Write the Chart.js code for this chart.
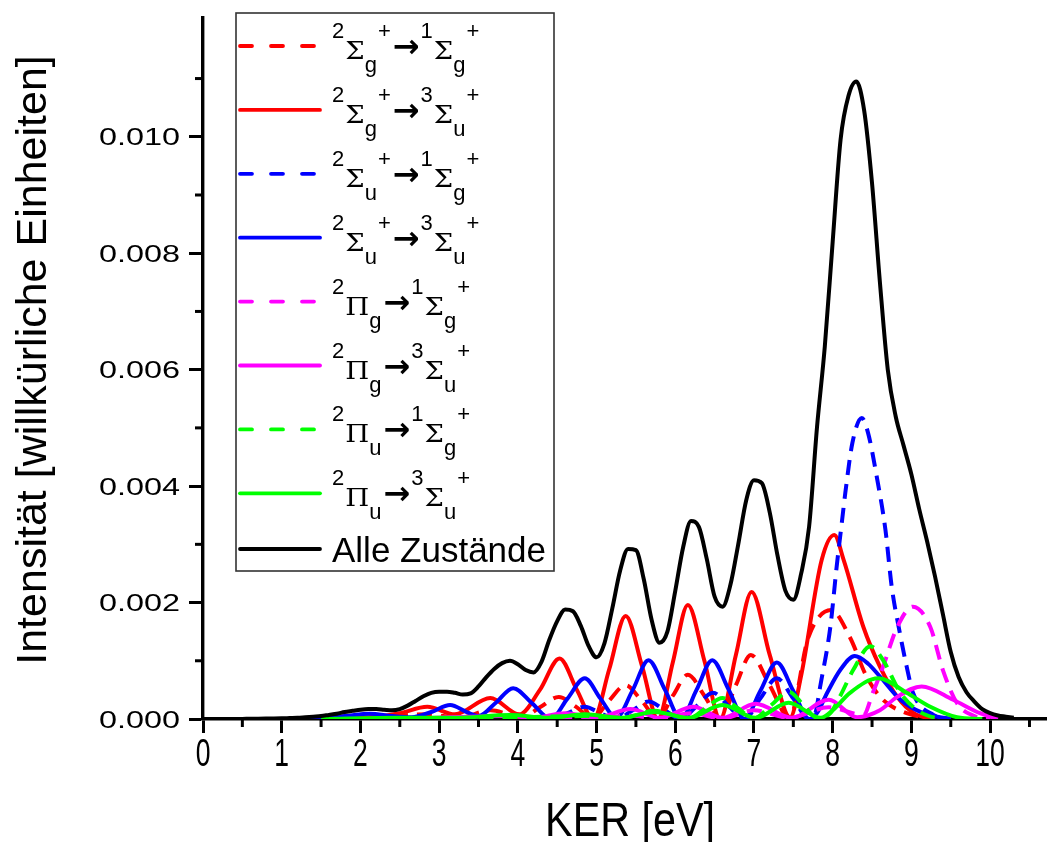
<!DOCTYPE html>
<html>
<head>
<meta charset="utf-8">
<script src="https://cdn.jsdelivr.net/npm/chart.js@4.4.0/dist/chart.umd.min.js"></script>
<style>
  html, body { margin: 0; padding: 0; background: #fff; }
</style>
</head>
<body>
<canvas id="kerChart" width="1049" height="842"></canvas>
<script>
// all intensities are given in units of 1e-3 (arb. units)
var kerAlle = [0.4,0.5,0.6,0.7,0.8,0.9,1.0,1.1,1.2,1.3,1.4,1.5,1.6,1.7,1.8,1.9,2.0,2.1,2.2,2.3,2.4,2.5,2.6,2.7,2.8,2.9,
  3.0,3.1,3.2,3.3,3.4,3.5,3.6,3.7,3.8,3.9,4.0,4.1,4.2,4.3,4.4,4.5,4.6,4.7,4.8,4.9,5.0,5.1,5.2,5.3,5.4,5.5,5.6,5.7,5.8,5.9,
  6.0,6.1,6.2,6.3,6.4,6.5,6.6,6.7,6.8,6.9,7.0,7.1,7.2,7.3,7.4,7.5,7.6,7.7,7.8,7.9,8.0,8.1,8.2,8.3,8.4,8.5,8.6,8.7,8.8,8.9,
  9.0,9.1,9.2,9.3,9.4,9.5,9.6,9.7,9.8,9.9,10.0,10.1,10.2,10.3];
var alleZustaende = [0,0.002,0.003,0.005,0.007,0.009,0.012,0.016,0.02,0.03,0.04,0.05,0.07,0.09,0.12,0.14,0.16,0.17,0.17,0.16,0.15,0.17,
  0.23,0.31,0.39,0.45,0.47,0.47,0.45,0.42,0.44,0.56,0.72,0.86,0.96,1.0,0.94,0.84,0.8,0.98,1.36,1.68,1.88,1.85,1.6,1.25,1.06,1.3,1.9,
  2.55,2.92,2.9,2.4,1.7,1.31,1.5,2.2,2.95,3.4,3.3,2.75,2.1,1.93,2.3,3.0,3.75,4.1,4.05,3.55,2.8,2.2,2.05,2.5,3.3,5.0,6.4,8.2,9.95,
  10.7,10.95,10.45,9.2,7.5,6.0,5.2,4.7,4.2,3.6,3.05,2.45,1.8,1.15,0.72,0.46,0.3,0.17,0.1,0.06,0.04,0.02];

var kerSgS1 = [1.5,2.2,2.85,3.25,3.65,4.05,4.28,4.52,4.75,4.95,5.15,5.37,5.58,5.78,5.97,6.16,6.37,6.57,6.77,6.96,7.2,7.45,7.69,7.98,8.22,8.43,8.64,8.94,9.3];
var sgS1 = [0,0.03,0.08,0.02,0.15,0.03,0.2,0.38,0.2,0.01,0.3,0.58,0.3,0.01,0.4,0.76,0.4,0.01,0.58,1.1,0.58,0.02,1.4,1.87,1.4,0.73,0.33,0.1,0];

var kerSgS3 = [1.5,2.2,2.5,2.85,3.2,3.65,4.02,4.28,4.53,4.75,4.96,5.16,5.37,5.58,5.78,5.97,6.16,6.37,6.57,6.77,6.97,7.2,7.46,7.6,7.86,8.02,8.14,8.39,8.6,8.82,9.03,9.25];
var sgS3 = [0,0.04,0.1,0.21,0.08,0.36,0.08,0.5,1.04,0.5,0.0,0.85,1.77,0.9,0.0,0.98,1.96,1.0,0.0,1.1,2.18,1.1,0.03,0.75,2.73,3.16,2.73,1.58,0.9,0.38,0.1,0];

var kerSuS1 = [3.0,3.94,4.42,4.63,4.85,5.05,5.25,5.46,5.66,5.87,6.07,6.27,6.48,6.68,6.88,7.08,7.29,7.5,7.7,7.78,7.84,7.97,8.05,8.12,8.16,8.25,8.37,8.45,8.56,8.67,8.75,8.85,8.94,9.02,9.28,9.5];
var suS1 = [0,0.06,0.0,0.1,0.21,0.1,0.0,0.15,0.3,0.15,0.0,0.22,0.45,0.22,0.0,0.35,0.7,0.35,0.0,0.1,0.55,1.58,2.61,3.42,3.88,4.74,5.17,4.91,4.16,3.25,2.27,1.5,0.9,0.45,0.07,0];

var kerSuS3 = [1.2,1.8,2.12,2.4,2.65,2.9,3.14,3.35,3.5,3.72,3.94,4.18,4.42,4.63,4.85,5.05,5.25,5.46,5.66,5.87,6.07,6.27,6.47,6.68,6.88,7.08,7.29,7.5,7.7,7.8,7.93,8.1,8.28,8.45,8.6,8.86,9.15,9.5];
var suS3 = [0,0.05,0.09,0.05,0.03,0.12,0.24,0.12,0.05,0.28,0.53,0.27,0.0,0.35,0.7,0.35,0.02,0.5,1.01,0.5,0.0,0.5,1.01,0.5,0.0,0.48,0.97,0.48,0.0,0.1,0.45,0.85,1.08,0.95,0.73,0.33,0.1,0];

var kerPgS1 = [4.5,5.0,5.4,5.8,6.2,6.6,7.0,7.45,7.95,8.39,8.51,8.64,8.82,9.02,9.24,9.4,9.58,9.8,10.0];
var pgS1 = [0,0.01,0.06,0.01,0.1,0.01,0.15,0.02,0.2,0.07,0.45,0.9,1.58,1.93,1.58,0.84,0.27,0.05,0];

var kerPgS3 = [2.5,3.9,4.2,4.6,5.0,5.43,5.8,6.23,6.6,7.02,7.48,7.95,8.31,8.6,8.82,9.13,9.53,9.87,10.1];
var pgS3 = [0,0.05,0.02,0.1,0.02,0.17,0.02,0.21,0.02,0.26,0.02,0.33,0.03,0.15,0.38,0.56,0.33,0.1,0];

var kerPuS1 = [3.5,4.85,5.3,5.74,6.17,6.38,6.6,6.8,7.0,7.22,7.44,7.63,7.8,7.97,8.09,8.26,8.48,8.64,8.86,9.11,9.35];
var puS1 = [0,0.05,0.01,0.14,0.01,0.18,0.36,0.18,0.01,0.24,0.47,0.24,0.02,0.1,0.38,0.84,1.25,1.01,0.45,0.12,0];

var kerPuS3 = [1.5,2.5,3.2,3.9,4.4,4.85,5.3,5.74,6.17,6.6,7.02,7.44,7.85,8.0,8.22,8.58,8.94,9.24,9.58,9.9];
var puS3 = [0,0.02,0.02,0.07,0.02,0.08,0.02,0.12,0.02,0.24,0.02,0.28,0.02,0.15,0.45,0.7,0.45,0.21,0.03,0];

// legend labels: ^x = superscript, _x = subscript
var seriesLabels = ['^2Σ_g^+→^1Σ_g^+', '^2Σ_g^+→^3Σ_u^+', '^2Σ_u^+→^1Σ_g^+', '^2Σ_u^+→^3Σ_u^+',
  '^2Π_g→^1Σ_g^+', '^2Π_g→^3Σ_u^+', '^2Π_u→^1Σ_g^+', '^2Π_u→^3Σ_u^+', 'Alle Zustände'];
var seriesColors = ['#ff0000', '#ff0000', '#0000ff', '#0000ff', '#ff00ff', '#ff00ff', '#00ff00', '#00ff00', '#000000'];
var seriesDashed = [true, false, true, false, true, false, true, false, false];

var xTickLabels = ['0','1','2','3','4','5','6','7','8','9','10'];
var yTickLabels = ['0.000','0.002','0.004','0.006','0.008','0.010'];
var xMinorTicks = [0.5,1.5,2.5,3.5,4.5,5.5,6.5,7.5,8.5,9.5,10.5];
var yMinorTicks = [0.001,0.003,0.005,0.007,0.009,0.011];

var seriesX = [kerSgS1, kerSgS3, kerSuS1, kerSuS3, kerPgS1, kerPgS3, kerPuS1, kerPuS3, kerAlle];
var seriesY = [sgS1, sgS3, suS1, suS3, pgS1, pgS3, puS1, puS3, alleZustaende];

function toPoints(xs, ys) {
  return xs.map(function (x, i) { return { x: x, y: ys[i] * 1e-3 }; });
}

var datasets = seriesLabels.map(function (lbl, i) {
  return {
    label: lbl,
    data: toPoints(seriesX[i], seriesY[i]),
    borderColor: seriesColors[i],
    borderWidth: 4,
    borderDash: seriesDashed[i] ? [15, 9] : [],
    pointRadius: 0,
    fill: false,
    cubicInterpolationMode: 'monotone',
    order: seriesLabels.length - i
  };
});

function stretchText(ctx, str, x, y, font, sx, sy, align, baseline) {
  ctx.save();
  ctx.translate(x, y);
  ctx.scale(sx, sy);
  ctx.font = font;
  ctx.textAlign = align;
  ctx.textBaseline = baseline;
  ctx.fillText(str, 0, 0);
  ctx.restore();
}

function drawLabel(ctx, label, x0, cy) {
  var x = x0;
  var i = 0;
  while (i < label.length) {
    var c = label[i];
    if (c === '^' || c === '_') {
      var ch = label[i + 1];
      ctx.font = '22px "Liberation Sans", Arial, sans-serif';
      ctx.fillText(ch, x, c === '^' ? cy - 8 : cy + 26);
      x += ctx.measureText(ch).width + 1;
      i += 2;
      continue;
    }
    if (c === 'Σ' || c === 'Π') {
      ctx.save();
      ctx.translate(x, cy + 13);
      ctx.scale(1.1, 1);
      ctx.font = '25px "DejaVu Serif", "Liberation Serif", serif';
      ctx.fillText(c, 0, 0);
      var w = ctx.measureText(c).width * 1.1;
      ctx.restore();
      x += w;
    } else if (c === '→') {
      ctx.font = 'bold 32px "DejaVu Sans", sans-serif';
      ctx.fillText(c, x + 1, cy + 11);
      x += ctx.measureText(c).width + 2;
    } else {
      ctx.font = '35px "Liberation Sans", Arial, sans-serif';
      ctx.fillText(c, x, cy + 13);
      x += ctx.measureText(c).width;
    }
    i++;
  }
}

var decorations = {
  id: 'decorations',
  afterDraw: function (chart) {
    var ctx = chart.ctx;
    var xs = chart.scales.x, ys = chart.scales.y;
    var area = chart.chartArea;
    ctx.save();
    ctx.strokeStyle = '#000';
    ctx.fillStyle = '#000';
    ctx.lineWidth = 3;

    // minor ticks
    xMinorTicks.forEach(function (v) {
      var px = xs.getPixelForValue(v);
      ctx.beginPath(); ctx.moveTo(px, area.bottom); ctx.lineTo(px, area.bottom + 8); ctx.stroke();
    });
    yMinorTicks.forEach(function (v) {
      var py = ys.getPixelForValue(v);
      ctx.beginPath(); ctx.moveTo(area.left, py); ctx.lineTo(area.left - 8, py); ctx.stroke();
    });

    // tick labels
    ys.ticks.forEach(function (t, i) {
      stretchText(ctx, yTickLabels[i], 180, ys.getPixelForValue(t.value) + 8.5,
        '24px "Liberation Sans", Arial, sans-serif', 1.35, 1, 'right', 'alphabetic');
    });
    xs.ticks.forEach(function (t, i) {
      stretchText(ctx, xTickLabels[i], xs.getPixelForValue(t.value), 766,
        '39px "Liberation Sans", Arial, sans-serif', 0.68, 1, 'center', 'alphabetic');
    });

    // axis titles
    stretchText(ctx, 'KER [eV]', 630, 836, '48px "Liberation Sans", Arial, sans-serif', 0.86, 1, 'center', 'alphabetic');
    ctx.save();
    ctx.translate(46, 360);
    ctx.rotate(-Math.PI / 2);
    ctx.font = '43px "Liberation Sans", Arial, sans-serif';
    ctx.textAlign = 'center';
    ctx.textBaseline = 'alphabetic';
    ctx.fillText('Intensität [willkürliche Einheiten]', 0, 0);
    ctx.restore();

    // legend
    ctx.fillStyle = '#fff';
    ctx.fillRect(236, 13, 318, 558);
    ctx.strokeStyle = '#333';
    ctx.lineWidth = 1.6;
    ctx.strokeRect(236, 13, 318, 558);
    seriesLabels.forEach(function (lbl, i) {
      var cy = i < 8 ? 46 + 63.9 * i : 549;
      ctx.save();
      ctx.strokeStyle = seriesColors[i];
      ctx.lineWidth = 3.8;
      ctx.lineCap = 'round';
      ctx.setLineDash(seriesDashed[i] ? [12, 19] : []);
      ctx.beginPath(); ctx.moveTo(240, cy); ctx.lineTo(320, cy); ctx.stroke();
      ctx.restore();
      ctx.fillStyle = '#000';
      ctx.textAlign = 'left';
      ctx.textBaseline = 'alphabetic';
      drawLabel(ctx, lbl, 332, cy);
    });
    ctx.restore();
  }
};

new Chart(document.getElementById('kerChart'), {
  type: 'line',
  data: { datasets: datasets },
  options: {
    responsive: false,
    animation: false,
    layout: { padding: { top: 18, right: 3, left: 0, bottom: 0 } },
    plugins: { legend: { display: false }, tooltip: { enabled: false } },
    scales: {
      x: {
        type: 'linear',
        min: 0,
        max: 10.71,
        border: { display: true, color: '#000', width: 3.4 },
        grid: { drawOnChartArea: false, drawTicks: true, tickLength: 14, tickColor: '#000', tickWidth: 3 },
        ticks: { display: false, stepSize: 1, includeBounds: false },
        afterBuildTicks: function (s) { s.ticks = s.ticks.filter(function (t) { return t.value <= 10.001; }); },
        afterFit: function (s) { s.height = 123; }
      },
      y: {
        type: 'linear',
        min: 0,
        max: 0.01204,
        border: { display: true, color: '#000', width: 3.4 },
        grid: { drawOnChartArea: false, drawTicks: true, tickLength: 14, tickColor: '#000', tickWidth: 3 },
        ticks: { display: false, stepSize: 0.002, includeBounds: false },
        afterBuildTicks: function (s) { s.ticks = s.ticks.filter(function (t) { return t.value <= 0.0101; }); },
        afterFit: function (s) { s.width = 203; }
      }
    }
  },
  plugins: [decorations]
});
</script>
</body>
</html>
